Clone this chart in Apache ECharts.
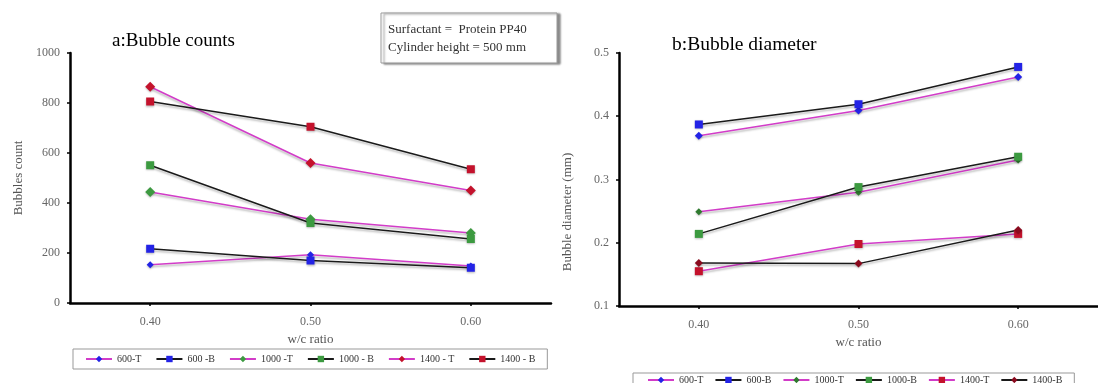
<!DOCTYPE html>
<html>
<head>
<meta charset="utf-8">
<script src="https://cdn.jsdelivr.net/npm/echarts@6/dist/echarts.min.js"></script>
<style>
  html, body { margin: 0; padding: 0; background: #fff; }
  #chart { width: 1098px; height: 383px; }
</style>
</head>
<body>
<div id="chart"></div>
<script>
// w/c ratios shared by both panels
const wcRatios = [0.40, 0.50, 0.60];

// Panel a: bubble counts
const countNames = ['600-T', '600 -B', '1000 -T', '1000 - B', '1400 - T', '1400 - B'];
const count600T  = [153, 193, 148];
const count600B  = [217, 170, 141];
const count1000T = [444, 335, 280];
const count1000B = [551, 320, 256];
const count1400T = [865, 560, 450];
const count1400B = [806, 705, 535];
const countTicks = [0, 200, 400, 600, 800, 1000];

// Panel b: bubble diameter (mm)
const diaNames = ['600-T', '600-B', '1000-T', '1000-B', '1400-T', '1400-B'];
const dia600T  = [0.369, 0.409, 0.462];
const dia600B  = [0.387, 0.419, 0.478];
const dia1000T = [0.249, 0.280, 0.331];
const dia1000B = [0.214, 0.288, 0.336];
const dia1400T = [0.155, 0.198, 0.214];
const dia1400B = [0.168, 0.167, 0.220];
const diaTicks = [0.1, 0.2, 0.3, 0.4, 0.5];

const SERIF = '"Liberation Serif", "DejaVu Serif", serif';
const PINK = '#d23cc8';
const BLACK = '#1a1a1a';
const BLUE = '#2323e6';
const GREEN = '#3c9a40';
const DKGREEN = '#2f7a2f';
const RED = '#c4122c';
const DKRED = '#8a0a1e';

const toPairs = vals => wcRatios.map((x, i) => [x, vals[i]]);

function line(name, vals, idx, lineColor, markColor, symbol, size) {
  return {
    name: name,
    type: 'line',
    xAxisIndex: idx,
    yAxisIndex: idx,
    data: toPairs(vals),
    symbol: symbol,
    symbolSize: size,
    lineStyle: {
      color: lineColor, width: 1.5,
      shadowColor: 'rgba(0,0,0,0.28)', shadowBlur: 2, shadowOffsetY: 2
    },
    itemStyle: { color: markColor, shadowColor: 'rgba(0,0,0,0.25)', shadowBlur: 2, shadowOffsetY: 1 },
    emphasis: { disabled: true },
    animation: false
  };
}

const axisLabelStyle = { fontFamily: SERIF, fontSize: 12, color: '#666' };
const axisLineStyle = { show: true, lineStyle: { color: '#000', width: 2.5 } };

function xAxis(idx, gap) {
  return {
    type: 'value', gridIndex: idx, min: 0.35, max: 0.65,
    name: 'w/c ratio', nameLocation: 'middle', nameGap: gap,
    nameTextStyle: { fontFamily: SERIF, fontSize: 13, color: '#555' },
    axisLine: axisLineStyle,
    axisTick: { show: true, customValues: wcRatios, length: 3, lineStyle: { color: '#000', width: 1.5 } },
    splitLine: { show: false },
    axisLabel: Object.assign({}, axisLabelStyle, {
      customValues: wcRatios, margin: 13,
      formatter: v => v.toFixed(2)
    })
  };
}

function yAxis(idx, ticks, step, extra) {
  return Object.assign({
    type: 'value', gridIndex: idx, min: ticks[0], max: ticks[ticks.length - 1], interval: step,
    axisLine: axisLineStyle,
    axisTick: { show: true, length: 3, lineStyle: { color: '#000', width: 1.5 } },
    splitLine: { show: false }
  }, extra);
}

const option = {
  backgroundColor: '#fff',
  animation: false,
  grid: [
    { left: 70, top: 53, width: 481, height: 250 },
    { left: 619, top: 53, width: 486, height: 253 }
  ],
  xAxis: [ xAxis(0, 13), xAxis(1, 19) ],
  yAxis: [
    yAxis(0, countTicks, 200, {
      name: 'Bubbles count', nameLocation: 'middle', nameGap: 45,
      nameTextStyle: { fontFamily: SERIF, fontSize: 13, color: '#555' },
      axisLabel: Object.assign({}, axisLabelStyle, { margin: 10, formatter: v => String(v) })
    }),
    yAxis(1, diaTicks, 0.1, {
      axisLabel: Object.assign({}, axisLabelStyle, { margin: 10, formatter: v => String(+v.toFixed(1)) })
    })
  ],
  legend: [
    {
      data: countNames, left: 73, top: 349,
      padding: [5, 12, 5, 12], itemGap: 14, itemWidth: 26, itemHeight: 8,
      borderColor: '#999', borderWidth: 1,
      textStyle: { fontFamily: SERIF, fontSize: 10, color: '#333' },
      selectedMode: false
    },
    {
      data: diaNames, left: 633, top: 373,
      padding: [2, 12, 6, 14], itemGap: 11, itemWidth: 26, itemHeight: 8,
      borderColor: '#999', borderWidth: 1,
      textStyle: { fontFamily: SERIF, fontSize: 10, color: '#333' },
      selectedMode: false
    }
  ],
  series: [
    line(countNames[0], count600T, 0, PINK, BLUE, 'diamond', 7),
    line(countNames[1], count600B, 0, BLACK, BLUE, 'rect', 8),
    line(countNames[2], count1000T, 0, PINK, GREEN, 'diamond', 10),
    line(countNames[3], count1000B, 0, BLACK, GREEN, 'rect', 8),
    line(countNames[4], count1400T, 0, PINK, RED, 'diamond', 10),
    line(countNames[5], count1400B, 0, BLACK, RED, 'rect', 8),

    line(diaNames[0], dia600T, 1, PINK, BLUE, 'diamond', 8),
    line(diaNames[1], dia600B, 1, BLACK, BLUE, 'rect', 8),
    line(diaNames[2], dia1000T, 1, PINK, DKGREEN, 'diamond', 7),
    line(diaNames[3], dia1000B, 1, BLACK, GREEN, 'rect', 8),
    line(diaNames[4], dia1400T, 1, PINK, RED, 'rect', 8),
    line(diaNames[5], dia1400B, 1, BLACK, DKRED, 'diamond', 8)
  ],
  graphic: [
    { type: 'text', left: 112, top: 32, style: { text: 'a:Bubble counts', font: '19px ' + SERIF, fill: '#000' } },
    { type: 'text', left: 672, top: 35, style: { text: 'b:Bubble diameter', font: '19.5px ' + SERIF, fill: '#000' } },
    {
      type: 'text', x: 568, y: 212, rotation: Math.PI / 2,
      style: { text: 'Bubble diameter (mm)', font: '13px ' + SERIF, fill: '#555', align: 'center', verticalAlign: 'middle' }
    },
    // note box with a drop shadow
    {
      type: 'rect', shape: { x: 381, y: 13, width: 176, height: 50 },
      style: { fill: '#fff', stroke: '#999', lineWidth: 1, shadowColor: 'rgba(0,0,0,0.45)', shadowBlur: 2, shadowOffsetX: 3, shadowOffsetY: 1 }
    },
    { type: 'text', left: 388, top: 23, style: { text: 'Surfactant =  Protein PP40', font: '13px ' + SERIF, fill: '#333' } },
    { type: 'text', left: 388, top: 41, style: { text: 'Cylinder height = 500 mm', font: '13px ' + SERIF, fill: '#333' } }
  ]
};

const chart = echarts.init(document.getElementById('chart'), null, { renderer: 'canvas' });
chart.setOption(option);
</script>
</body>
</html>
